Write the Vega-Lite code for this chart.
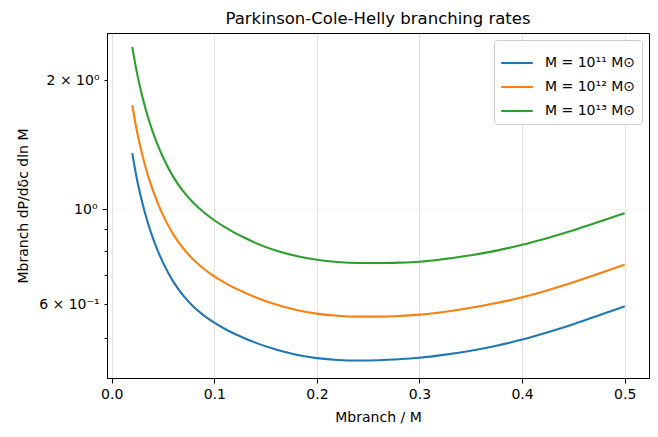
{
  "$schema": "https://vega.github.io/schema/vega-lite/v6.json",
  "width": 542,
  "height": 345,
  "autosize": {"type": "none"},
  "padding": {"left": 107, "top": 33, "right": 9, "bottom": 59},
  "background": "white",
  "config": {
    "font": "DejaVu Sans",
    "view": {"stroke": "black", "strokeWidth": 1},
    "axis": {
      "domainColor": "black",
      "tickColor": "black",
      "labelColor": "black",
      "titleColor": "black",
      "labelFont": "DejaVu Sans",
      "titleFont": "DejaVu Sans",
      "labelFontSize": 14,
      "titleFontSize": 14,
      "titleFontWeight": "normal",
      "gridColor": "#b0b0b0",
      "gridOpacity": 0.35,
      "gridWidth": 1
    }
  },
  "title": {
    "text": "Parkinson-Cole-Helly branching rates",
    "fontSize": 16.5,
    "fontWeight": "normal",
    "font": "DejaVu Sans",
    "color": "black",
    "anchor": "middle",
    "offset": 6
  },
  "data": {
    "values": [
      {"series": "M = 10¹¹ M⊙", "q": 0.02, "rate": 1.350},
      {"series": "M = 10¹¹ M⊙", "q": 0.025, "rate": 1.161},
      {"series": "M = 10¹¹ M⊙", "q": 0.03, "rate": 1.030},
      {"series": "M = 10¹¹ M⊙", "q": 0.035, "rate": 0.932},
      {"series": "M = 10¹¹ M⊙", "q": 0.04, "rate": 0.858},
      {"series": "M = 10¹¹ M⊙", "q": 0.045, "rate": 0.798},
      {"series": "M = 10¹¹ M⊙", "q": 0.05, "rate": 0.750},
      {"series": "M = 10¹¹ M⊙", "q": 0.06, "rate": 0.677},
      {"series": "M = 10¹¹ M⊙", "q": 0.07, "rate": 0.627},
      {"series": "M = 10¹¹ M⊙", "q": 0.08, "rate": 0.5908},
      {"series": "M = 10¹¹ M⊙", "q": 0.09, "rate": 0.5641},
      {"series": "M = 10¹¹ M⊙", "q": 0.10, "rate": 0.5430},
      {"series": "M = 10¹¹ M⊙", "q": 0.11, "rate": 0.5256},
      {"series": "M = 10¹¹ M⊙", "q": 0.12, "rate": 0.5110},
      {"series": "M = 10¹¹ M⊙", "q": 0.13, "rate": 0.499},
      {"series": "M = 10¹¹ M⊙", "q": 0.14, "rate": 0.488},
      {"series": "M = 10¹¹ M⊙", "q": 0.16, "rate": 0.470},
      {"series": "M = 10¹¹ M⊙", "q": 0.18, "rate": 0.457},
      {"series": "M = 10¹¹ M⊙", "q": 0.20, "rate": 0.449},
      {"series": "M = 10¹¹ M⊙", "q": 0.22, "rate": 0.4446},
      {"series": "M = 10¹¹ M⊙", "q": 0.24, "rate": 0.4433},
      {"series": "M = 10¹¹ M⊙", "q": 0.26, "rate": 0.4440},
      {"series": "M = 10¹¹ M⊙", "q": 0.28, "rate": 0.4463},
      {"series": "M = 10¹¹ M⊙", "q": 0.30, "rate": 0.4499},
      {"series": "M = 10¹¹ M⊙", "q": 0.325, "rate": 0.4575},
      {"series": "M = 10¹¹ M⊙", "q": 0.35, "rate": 0.4673},
      {"series": "M = 10¹¹ M⊙", "q": 0.375, "rate": 0.4800},
      {"series": "M = 10¹¹ M⊙", "q": 0.40, "rate": 0.4961},
      {"series": "M = 10¹¹ M⊙", "q": 0.425, "rate": 0.5160},
      {"series": "M = 10¹¹ M⊙", "q": 0.45, "rate": 0.5388},
      {"series": "M = 10¹¹ M⊙", "q": 0.475, "rate": 0.5650},
      {"series": "M = 10¹¹ M⊙", "q": 0.50, "rate": 0.5932},
      {"series": "M = 10¹² M⊙", "q": 0.02, "rate": 1.747},
      {"series": "M = 10¹² M⊙", "q": 0.025, "rate": 1.503},
      {"series": "M = 10¹² M⊙", "q": 0.03, "rate": 1.333},
      {"series": "M = 10¹² M⊙", "q": 0.035, "rate": 1.205},
      {"series": "M = 10¹² M⊙", "q": 0.04, "rate": 1.108},
      {"series": "M = 10¹² M⊙", "q": 0.045, "rate": 1.031},
      {"series": "M = 10¹² M⊙", "q": 0.05, "rate": 0.968},
      {"series": "M = 10¹² M⊙", "q": 0.06, "rate": 0.873},
      {"series": "M = 10¹² M⊙", "q": 0.07, "rate": 0.808},
      {"series": "M = 10¹² M⊙", "q": 0.08, "rate": 0.7605},
      {"series": "M = 10¹² M⊙", "q": 0.09, "rate": 0.7247},
      {"series": "M = 10¹² M⊙", "q": 0.10, "rate": 0.6965},
      {"series": "M = 10¹² M⊙", "q": 0.11, "rate": 0.6734},
      {"series": "M = 10¹² M⊙", "q": 0.12, "rate": 0.6538},
      {"series": "M = 10¹² M⊙", "q": 0.13, "rate": 0.6376},
      {"series": "M = 10¹² M⊙", "q": 0.14, "rate": 0.6225},
      {"series": "M = 10¹² M⊙", "q": 0.16, "rate": 0.5985},
      {"series": "M = 10¹² M⊙", "q": 0.18, "rate": 0.5815},
      {"series": "M = 10¹² M⊙", "q": 0.20, "rate": 0.5702},
      {"series": "M = 10¹² M⊙", "q": 0.22, "rate": 0.5637},
      {"series": "M = 10¹² M⊙", "q": 0.24, "rate": 0.5611},
      {"series": "M = 10¹² M⊙", "q": 0.26, "rate": 0.5612},
      {"series": "M = 10¹² M⊙", "q": 0.28, "rate": 0.5632},
      {"series": "M = 10¹² M⊙", "q": 0.30, "rate": 0.5671},
      {"series": "M = 10¹² M⊙", "q": 0.325, "rate": 0.5761},
      {"series": "M = 10¹² M⊙", "q": 0.35, "rate": 0.5884},
      {"series": "M = 10¹² M⊙", "q": 0.375, "rate": 0.6034},
      {"series": "M = 10¹² M⊙", "q": 0.40, "rate": 0.6226},
      {"series": "M = 10¹² M⊙", "q": 0.425, "rate": 0.6466},
      {"series": "M = 10¹² M⊙", "q": 0.45, "rate": 0.6748},
      {"series": "M = 10¹² M⊙", "q": 0.475, "rate": 0.7070},
      {"series": "M = 10¹² M⊙", "q": 0.50, "rate": 0.7418},
      {"series": "M = 10¹³ M⊙", "q": 0.02, "rate": 2.389},
      {"series": "M = 10¹³ M⊙", "q": 0.025, "rate": 2.056},
      {"series": "M = 10¹³ M⊙", "q": 0.03, "rate": 1.823},
      {"series": "M = 10¹³ M⊙", "q": 0.035, "rate": 1.649},
      {"series": "M = 10¹³ M⊙", "q": 0.04, "rate": 1.514},
      {"series": "M = 10¹³ M⊙", "q": 0.045, "rate": 1.408},
      {"series": "M = 10¹³ M⊙", "q": 0.05, "rate": 1.321},
      {"series": "M = 10¹³ M⊙", "q": 0.06, "rate": 1.189},
      {"series": "M = 10¹³ M⊙", "q": 0.07, "rate": 1.098},
      {"series": "M = 10¹³ M⊙", "q": 0.08, "rate": 1.0317},
      {"series": "M = 10¹³ M⊙", "q": 0.09, "rate": 0.9815},
      {"series": "M = 10¹³ M⊙", "q": 0.10, "rate": 0.9417},
      {"series": "M = 10¹³ M⊙", "q": 0.11, "rate": 0.9083},
      {"series": "M = 10¹³ M⊙", "q": 0.12, "rate": 0.8799},
      {"series": "M = 10¹³ M⊙", "q": 0.13, "rate": 0.8560},
      {"series": "M = 10¹³ M⊙", "q": 0.14, "rate": 0.8338},
      {"series": "M = 10¹³ M⊙", "q": 0.16, "rate": 0.8000},
      {"series": "M = 10¹³ M⊙", "q": 0.18, "rate": 0.7768},
      {"series": "M = 10¹³ M⊙", "q": 0.20, "rate": 0.7614},
      {"series": "M = 10¹³ M⊙", "q": 0.22, "rate": 0.7526},
      {"series": "M = 10¹³ M⊙", "q": 0.24, "rate": 0.7486},
      {"series": "M = 10¹³ M⊙", "q": 0.26, "rate": 0.7482},
      {"series": "M = 10¹³ M⊙", "q": 0.28, "rate": 0.7499},
      {"series": "M = 10¹³ M⊙", "q": 0.30, "rate": 0.7537},
      {"series": "M = 10¹³ M⊙", "q": 0.325, "rate": 0.7653},
      {"series": "M = 10¹³ M⊙", "q": 0.35, "rate": 0.7802},
      {"series": "M = 10¹³ M⊙", "q": 0.375, "rate": 0.8000},
      {"series": "M = 10¹³ M⊙", "q": 0.40, "rate": 0.8253},
      {"series": "M = 10¹³ M⊙", "q": 0.425, "rate": 0.8564},
      {"series": "M = 10¹³ M⊙", "q": 0.45, "rate": 0.8923},
      {"series": "M = 10¹³ M⊙", "q": 0.475, "rate": 0.9335},
      {"series": "M = 10¹³ M⊙", "q": 0.50, "rate": 0.9779}
    ]
  },
  "mark": {"type": "line", "strokeWidth": 2.1, "clip": true, "interpolate": "monotone"},
  "encoding": {
    "x": {
      "field": "q",
      "type": "quantitative",
      "scale": {"domain": [-0.0046, 0.5237], "nice": false, "zero": false},
      "axis": {
        "title": "Mbranch / M",
        "values": [0, 0.1, 0.2, 0.3, 0.4, 0.5],
        "format": ".1f",
        "tickSize": 5,
        "labelPadding": 4,
        "titlePadding": 9,
        "labelFlush": false,
        "grid": true
      }
    },
    "y": {
      "field": "rate",
      "type": "quantitative",
      "scale": {"type": "log", "domain": [0.4035, 2.575], "nice": false},
      "axis": {
        "title": "Mbranch dP/dδc dln M",
        "values": [0.5, 0.6, 0.7, 0.8, 0.9, 1, 2],
        "labelExpr": "datum.value == 2 ? '2 × 10⁰' : (datum.value == 1 ? '10⁰' : (abs(datum.value - 0.6) < 1e-6 ? '6 × 10⁻¹' : ''))",
        "tickSize": {"condition": {"test": "datum.value == 1", "value": 5}, "value": 3},
        "gridOpacity": {"condition": {"test": "datum.value == 1", "value": 0.35}, "value": 0},
        "labelPadding": 5,
        "titlePadding": 8,
        "labelFlush": false,
        "grid": true
      }
    },
    "color": {
      "field": "series",
      "type": "nominal",
      "scale": {
        "domain": ["M = 10¹¹ M⊙", "M = 10¹² M⊙", "M = 10¹³ M⊙"],
        "range": ["#1f77b4", "#ff7f0e", "#2ca02c"]
      },
      "legend": {
        "title": null,
        "orient": "top-right",
        "offset": 7,
        "symbolType": "stroke",
        "symbolSize": 1000,
        "symbolStrokeWidth": 2.1,
        "labelFontSize": 14,
        "labelFont": "DejaVu Sans",
        "labelColor": "black",
        "labelOffset": 11,
        "rowPadding": -3,
        "padding": 6,
        "fillColor": "rgba(255,255,255,0.8)",
        "strokeColor": "#cccccc",
        "cornerRadius": 3,
        "labelLimit": 300
      }
    }
  }
}
